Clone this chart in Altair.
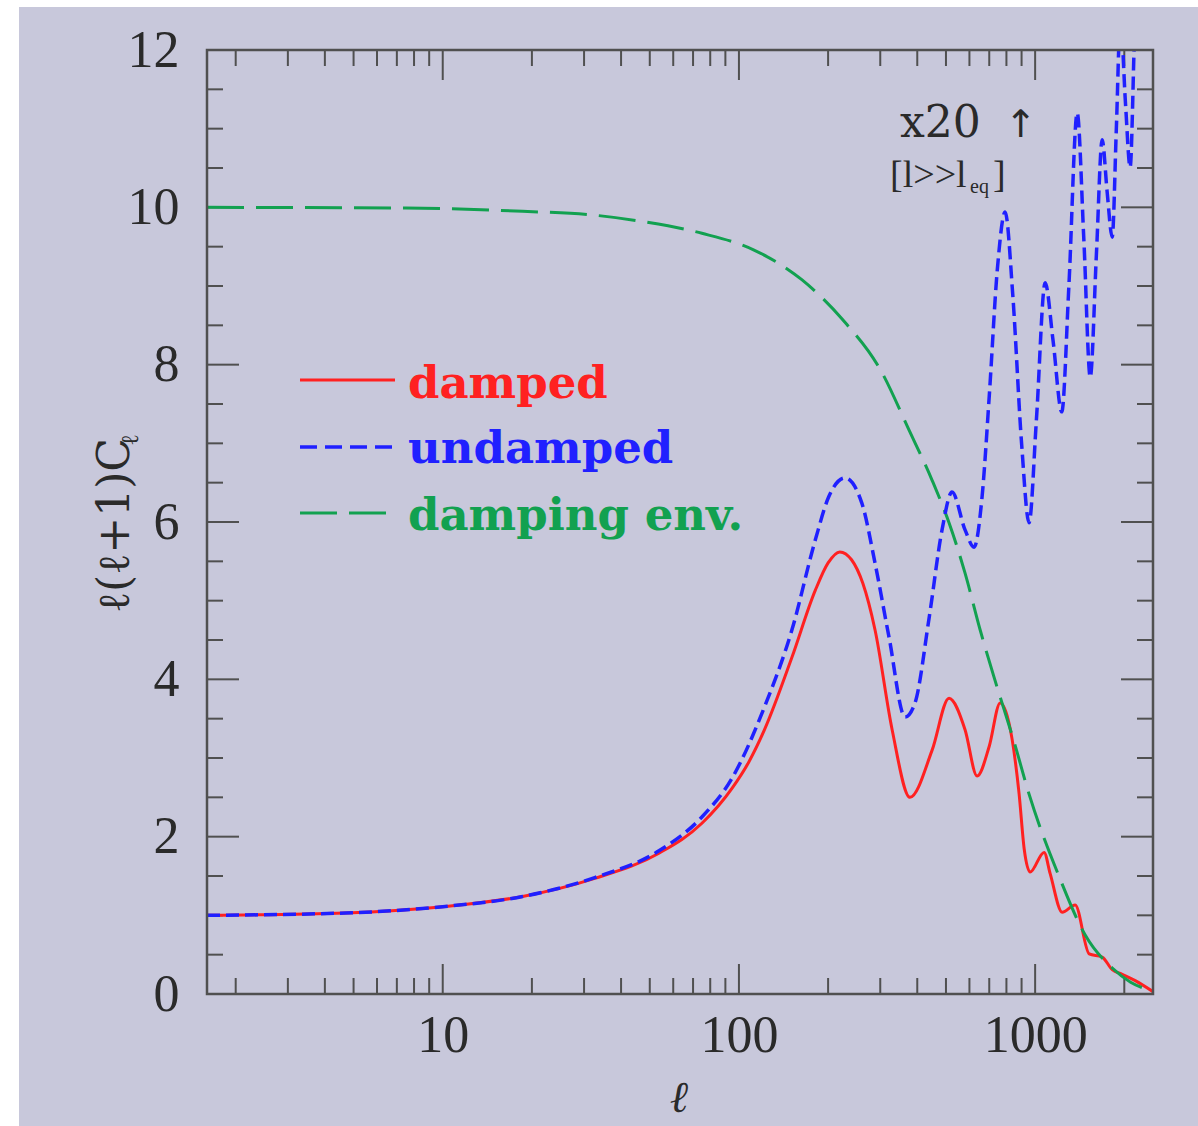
import altair as alt
import pandas as pd

# Multipole l and l(l+1)C_l for the damped spectrum
ell_damped = [1.6, 4.7, 10, 18.6, 32.6, 53.7, 75, 95, 108, 122, 151, 181, 200, 219, 240, 262,
              288, 329, 378, 449, 512, 580, 637, 700, 762, 836, 883, 918, 962, 1072,
              1124, 1234, 1365, 1522, 1684, 1821, 1968, 2177, 2500]
cl_damped = [1.00, 1.03, 1.11, 1.24, 1.47, 1.79, 2.17, 2.62, 2.95, 3.36, 4.28, 5.13, 5.48,
             5.62, 5.52, 5.22, 4.63, 3.36, 2.50, 3.10, 3.76, 3.36, 2.77, 3.15, 3.70, 3.24,
             2.54, 1.85, 1.55, 1.80, 1.53, 1.04, 1.13, 0.51, 0.47, 0.31, 0.25, 0.17, 0.03]

# Undamped spectrum (scaled x20 at high l)
ell_undamped = [1.6, 4.7, 10, 18.6, 32.6, 53.7, 75, 95, 122, 151, 181, 201, 228, 260, 288,
                321, 364, 393, 439, 485, 524, 580, 622, 662, 700, 745, 792, 840, 900, 954,
                1010, 1081, 1150, 1230, 1300, 1387, 1460, 1535, 1610, 1684, 1750, 1821,
                1880, 1940, 2020, 2093, 2170, 2250]
cl_undamped = [1.00, 1.03, 1.11, 1.24, 1.48, 1.82, 2.25, 2.75, 3.65, 4.63, 5.77, 6.32, 6.56,
               6.24, 5.48, 4.54, 3.52, 3.70, 4.79, 5.90, 6.38, 5.90, 5.68, 6.32, 7.60, 9.20,
               9.94, 8.90, 7.00, 5.99, 7.30, 9.04, 8.30, 7.40, 9.00, 11.20, 9.60, 7.84, 9.40,
               10.86, 10.20, 9.62, 11.00, 12.40, 11.30, 10.51, 12.30, 13.50]

# Damping envelope
ell_env = [1.6, 7.5, 18.6, 32.6, 49, 75, 112, 163, 223, 304, 375, 449, 512, 580, 652, 733,
           850, 954, 1206, 1476, 1821, 2100, 2430]
cl_env = [10.0, 9.99, 9.95, 9.90, 9.81, 9.67, 9.46, 9.08, 8.58, 7.90, 7.17, 6.53, 5.99, 5.35,
          4.63, 3.98, 3.20, 2.54, 1.49, 0.75, 0.33, 0.15, 0.05]

x_major_ticks = [10, 100, 1000]
x_minor_ticks = [2, 3, 4, 5, 6, 7, 8, 9, 20, 30, 40, 50, 60, 70, 80, 90,
                 200, 300, 400, 500, 600, 700, 800, 900, 2000]
y_major_ticks = [2, 4, 6, 8, 10]
y_minor_ticks = [0.5, 1, 1.5, 2.5, 3, 3.5, 4.5, 5, 5.5, 6.5, 7, 7.5, 8.5, 9, 9.5,
                 10.5, 11, 11.5]
y_tick_labels = [0, 2, 4, 6, 8, 10, 12]

W, H = 946, 944
BG = "#c8c8db"
FRAME = "#505050"
RED = "#ff2121"
BLUE = "#2020ff"
GREEN = "#12a150"
INK = "#2a2a2a"

x_scale = alt.Scale(type="log", domain=[1.6, 2500], nice=False)
y_scale = alt.Scale(domain=[0, 12], nice=False, zero=False)

x_axis = alt.Axis(values=x_major_ticks, format="d", title=None, ticks=False, tickSize=0,
                  domain=False, grid=False, labelFont="Liberation Serif", labelFontSize=52,
                  labelColor=INK, labelPadding=16, labelFlush=False, labelOverlap=False,
                  zindex=1)
y_axis = alt.Axis(values=y_tick_labels, format="d", title=None, ticks=False, tickSize=0,
                  domain=False, grid=False, labelFont="Liberation Serif", labelFontSize=52,
                  labelColor=INK, labelPadding=28, labelFlush=False, labelOverlap=False,
                  zindex=1)

X = alt.X("l:Q", scale=x_scale, axis=x_axis)
Y = alt.Y("v:Q", scale=y_scale, axis=y_axis)

one = pd.DataFrame({"k": [0]})

damped = pd.DataFrame({"l": ell_damped, "v": cl_damped})
undamped = pd.DataFrame({"l": ell_undamped, "v": cl_undamped})
env = pd.DataFrame({"l": ell_env, "v": cl_env})

# page background panel (leaves a thin white margin at left and top)
panel = alt.Chart(one).mark_rect(color=BG).encode(
    x=alt.value(-188), x2=alt.value(991), y=alt.value(-43), y2=alt.value(1076))

red_line = alt.Chart(damped).mark_line(color=RED, strokeWidth=3, interpolate="monotone",
                                       clip=True).encode(x=X, y=Y)
green_line = alt.Chart(env).mark_line(color=GREEN, strokeWidth=3, strokeDash=[37, 12],
                                      interpolate="monotone", clip=True).encode(x=X, y=Y)
blue_line = alt.Chart(undamped).mark_line(color=BLUE, strokeWidth=3.5, strokeDash=[13, 6],
                                          interpolate="monotone", clip=True).encode(x=X, y=Y)

# inward-pointing ticks on all four sides
xmaj = pd.DataFrame({"l": x_major_ticks})
xmin = pd.DataFrame({"l": x_minor_ticks})
ymaj = pd.DataFrame({"v": y_major_ticks})
ymin = pd.DataFrame({"v": y_minor_ticks})
tick_style = dict(color=FRAME, strokeWidth=2)


def xticks(df, length):
    bottom = alt.Chart(df).mark_rule(**tick_style).encode(
        x=X, y=alt.value(H), y2=alt.value(H - length))
    top = alt.Chart(df).mark_rule(**tick_style).encode(
        x=X, y=alt.value(0), y2=alt.value(length))
    return [bottom, top]


def yticks(df, length):
    left = alt.Chart(df).mark_rule(**tick_style).encode(
        y=Y, x=alt.value(0), x2=alt.value(length))
    right = alt.Chart(df).mark_rule(**tick_style).encode(
        y=Y, x=alt.value(W), x2=alt.value(W - length))
    return [left, right]


ticks = xticks(xmaj, 30) + xticks(xmin, 16) + yticks(ymaj, 32) + yticks(ymin, 16)

frame = alt.Chart(one).mark_rect(fillOpacity=0, stroke=FRAME, strokeWidth=2.5).encode(
    x=alt.value(0), x2=alt.value(W), y=alt.value(0), y2=alt.value(H))


def label(txt, px, py, **kw):
    return alt.Chart(one).mark_text(**kw).encode(
        x=alt.value(px), y=alt.value(py), text=alt.value(txt))


serif = "DejaVu Serif"

# legend
legend = [
    alt.Chart(one).mark_rule(color=RED, strokeWidth=3).encode(
        x=alt.value(93), x2=alt.value(188), y=alt.value(330)),
    alt.Chart(one).mark_rule(color=BLUE, strokeWidth=3.5, strokeDash=[17, 8]).encode(
        x=alt.value(93), x2=alt.value(188), y=alt.value(397)),
    alt.Chart(one).mark_rule(color=GREEN, strokeWidth=3, strokeDash=[37, 12]).encode(
        x=alt.value(93), x2=alt.value(180), y=alt.value(463)),
    label("damped", 201, 348, font=serif, fontSize=45, fontWeight="bold", color=RED,
          align="left", baseline="alphabetic"),
    label("undamped", 201, 413, font=serif, fontSize=45, fontWeight="bold", color=BLUE,
          align="left", baseline="alphabetic"),
    label("damping env.", 201, 480, font=serif, fontSize=45, fontWeight="bold", color=GREEN,
          align="left", baseline="alphabetic"),
]

# axis titles and annotations
texts = [
    label("ℓ(ℓ+1)C", -78, 563, font=serif, fontSize=44, color=INK, angle=270, align="left",
          baseline="alphabetic"),
    label("ℓ", -69, 396, font=serif, fontSize=24, color=INK, angle=270, align="left",
          baseline="alphabetic"),
    label("ℓ", 472, 1062, font=serif, fontSize=44, fontStyle="italic", color=INK,
          align="center", baseline="alphabetic"),
    label("x20", 693, 87, font=serif, fontSize=44, color=INK, align="left",
          baseline="alphabetic"),
    label("↑", 814, 87, font="DejaVu Sans", fontSize=38, color=INK, align="center",
          baseline="alphabetic"),
    label("[l>>l", 683, 137, font="Liberation Serif", fontSize=38, color=INK, align="left",
          baseline="alphabetic"),
    label("eq", 763, 143, font="Liberation Serif", fontSize=20, color=INK, align="left",
          baseline="alphabetic"),
    label("]", 786, 137, font="Liberation Serif", fontSize=38, color=INK, align="left",
          baseline="alphabetic"),
]

chart = alt.layer(
    panel, *ticks, red_line, green_line, blue_line, frame, *legend, *texts
).properties(
    width=W, height=H,
    autosize=alt.AutoSizeParams(type="none"),
    padding={"left": 207, "top": 50, "right": 45, "bottom": 132},
    background="white",
).configure_view(stroke=None)

chart.save("out.html", embed_options={"renderer": "svg", "actions": False})
